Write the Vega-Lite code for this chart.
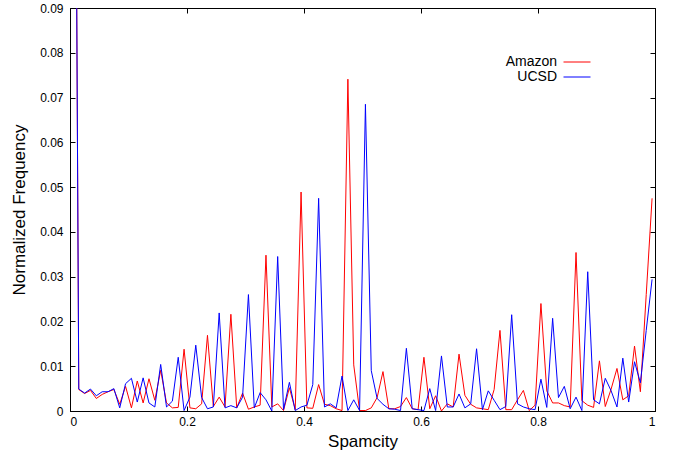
{
  "$schema": "https://vega.github.io/schema/vega-lite/v6.json",
  "width": 585,
  "height": 403,
  "autosize": {"type": "none"},
  "padding": {"left": 70, "top": 8, "right": 26, "bottom": 45},
  "background": "white",
  "config": {
    "view": {"stroke": "black", "strokeWidth": 1},
    "font": "Liberation Sans",
    "axis": {
      "grid": false,
      "domainColor": "black",
      "tickColor": "black",
      "labelColor": "black",
      "titleColor": "black",
      "labelFont": "Liberation Sans",
      "titleFont": "Liberation Sans",
      "labelFontSize": 12,
      "titleFontSize": 17,
      "titleFontWeight": "normal",
      "tickSize": -5
    }
  },
  "data": {
    "values": [
      {"x": 0.005, "Amazon": 0.25, "UCSD": 0.25},
      {"x": 0.015, "Amazon": 0.0048, "UCSD": 0.0049},
      {"x": 0.025, "Amazon": 0.0039, "UCSD": 0.0040},
      {"x": 0.035, "Amazon": 0.0046, "UCSD": 0.0049},
      {"x": 0.045, "Amazon": 0.0028, "UCSD": 0.0034},
      {"x": 0.055, "Amazon": 0.0037, "UCSD": 0.0043},
      {"x": 0.065, "Amazon": 0.0043, "UCSD": 0.0043},
      {"x": 0.075, "Amazon": 0.0048, "UCSD": 0.0050},
      {"x": 0.085, "Amazon": 0.0015, "UCSD": 0.0007},
      {"x": 0.095, "Amazon": 0.0055, "UCSD": 0.0061},
      {"x": 0.105, "Amazon": 0.0007, "UCSD": 0.0073},
      {"x": 0.115, "Amazon": 0.0067, "UCSD": 0.0020},
      {"x": 0.125, "Amazon": 0.0018, "UCSD": 0.0074},
      {"x": 0.135, "Amazon": 0.0072, "UCSD": 0.0018},
      {"x": 0.145, "Amazon": 0.0024, "UCSD": 0.0009},
      {"x": 0.155, "Amazon": 0.0091, "UCSD": 0.0104},
      {"x": 0.165, "Amazon": 0.0018, "UCSD": 0.0009},
      {"x": 0.175, "Amazon": 0.0007, "UCSD": 0.0022},
      {"x": 0.185, "Amazon": 0.0008, "UCSD": 0.0120},
      {"x": 0.195, "Amazon": 0.0138, "UCSD": 0.0001},
      {"x": 0.205, "Amazon": 0.0007, "UCSD": 0.0031},
      {"x": 0.215, "Amazon": 0.0005, "UCSD": 0.0147},
      {"x": 0.225, "Amazon": 0.0016, "UCSD": 0.0030},
      {"x": 0.235, "Amazon": 0.0169, "UCSD": 0.0005},
      {"x": 0.245, "Amazon": 0.0010, "UCSD": 0.0009},
      {"x": 0.255, "Amazon": 0.0031, "UCSD": 0.0219},
      {"x": 0.265, "Amazon": 0.0009, "UCSD": 0.0007},
      {"x": 0.275, "Amazon": 0.0216, "UCSD": 0.0012},
      {"x": 0.285, "Amazon": 0.0007, "UCSD": 0.0007},
      {"x": 0.295, "Amazon": 0.0040, "UCSD": 0.0031},
      {"x": 0.305, "Amazon": 0.0004, "UCSD": 0.0260},
      {"x": 0.315, "Amazon": 0.0009, "UCSD": 0.0007},
      {"x": 0.325, "Amazon": 0.0013, "UCSD": 0.0041},
      {"x": 0.335, "Amazon": 0.0348, "UCSD": 0.0025},
      {"x": 0.345, "Amazon": 0.0009, "UCSD": 0.0000},
      {"x": 0.355, "Amazon": 0.0016, "UCSD": 0.0345},
      {"x": 0.365, "Amazon": 0.0001, "UCSD": 0.0003},
      {"x": 0.375, "Amazon": 0.0052, "UCSD": 0.0064},
      {"x": 0.385, "Amazon": 0.0003, "UCSD": 0.0001},
      {"x": 0.395, "Amazon": 0.0489, "UCSD": 0.0009},
      {"x": 0.405, "Amazon": 0.0007, "UCSD": 0.0013},
      {"x": 0.415, "Amazon": 0.0006, "UCSD": 0.0059},
      {"x": 0.425, "Amazon": 0.0059, "UCSD": 0.0475},
      {"x": 0.435, "Amazon": 0.0015, "UCSD": 0.0009},
      {"x": 0.445, "Amazon": 0.0012, "UCSD": 0.0016},
      {"x": 0.455, "Amazon": 0.0005, "UCSD": 0.0007},
      {"x": 0.465, "Amazon": 0.0001, "UCSD": 0.0078},
      {"x": 0.475, "Amazon": 0.0741, "UCSD": 0.0001},
      {"x": 0.485, "Amazon": 0.0103, "UCSD": 0.0025},
      {"x": 0.495, "Amazon": 0.0001, "UCSD": 0.0001},
      {"x": 0.505, "Amazon": 0.0001, "UCSD": 0.0685},
      {"x": 0.515, "Amazon": 0.0007, "UCSD": 0.0090},
      {"x": 0.525, "Amazon": 0.0030, "UCSD": 0.0028},
      {"x": 0.535, "Amazon": 0.0088, "UCSD": 0.0015},
      {"x": 0.545, "Amazon": 0.0005, "UCSD": 0.0005},
      {"x": 0.555, "Amazon": 0.0005, "UCSD": 0.0004},
      {"x": 0.565, "Amazon": 0.0010, "UCSD": 0.0001},
      {"x": 0.575, "Amazon": 0.0030, "UCSD": 0.0140},
      {"x": 0.585, "Amazon": 0.0005, "UCSD": 0.0005},
      {"x": 0.595, "Amazon": 0.0003, "UCSD": 0.0003},
      {"x": 0.605, "Amazon": 0.0120, "UCSD": 0.0001},
      {"x": 0.615, "Amazon": 0.0005, "UCSD": 0.0050},
      {"x": 0.625, "Amazon": 0.0034, "UCSD": 0.0001},
      {"x": 0.635, "Amazon": 0.0000, "UCSD": 0.0123},
      {"x": 0.645, "Amazon": 0.0016, "UCSD": 0.0009},
      {"x": 0.655, "Amazon": 0.0009, "UCSD": 0.0009},
      {"x": 0.665, "Amazon": 0.0127, "UCSD": 0.0038},
      {"x": 0.675, "Amazon": 0.0035, "UCSD": 0.0007},
      {"x": 0.685, "Amazon": 0.0015, "UCSD": 0.0016},
      {"x": 0.695, "Amazon": 0.0007, "UCSD": 0.0139},
      {"x": 0.705, "Amazon": 0.0005, "UCSD": 0.0003},
      {"x": 0.715, "Amazon": 0.0003, "UCSD": 0.0045},
      {"x": 0.725, "Amazon": 0.0048, "UCSD": 0.0024},
      {"x": 0.735, "Amazon": 0.0180, "UCSD": 0.0003},
      {"x": 0.745, "Amazon": 0.0003, "UCSD": 0.0010},
      {"x": 0.755, "Amazon": 0.0003, "UCSD": 0.0215},
      {"x": 0.765, "Amazon": 0.0025, "UCSD": 0.0016},
      {"x": 0.775, "Amazon": 0.0046, "UCSD": 0.0009},
      {"x": 0.785, "Amazon": 0.0001, "UCSD": 0.0005},
      {"x": 0.795, "Amazon": 0.0013, "UCSD": 0.0003},
      {"x": 0.805, "Amazon": 0.0240, "UCSD": 0.0071},
      {"x": 0.815, "Amazon": 0.0045, "UCSD": 0.0008},
      {"x": 0.825, "Amazon": 0.0018, "UCSD": 0.0207},
      {"x": 0.835, "Amazon": 0.0018, "UCSD": 0.0030},
      {"x": 0.845, "Amazon": 0.0012, "UCSD": 0.0055},
      {"x": 0.855, "Amazon": 0.0009, "UCSD": 0.0005},
      {"x": 0.865, "Amazon": 0.0354, "UCSD": 0.0031},
      {"x": 0.875, "Amazon": 0.0023, "UCSD": 0.0001},
      {"x": 0.885, "Amazon": 0.0013, "UCSD": 0.0311},
      {"x": 0.895, "Amazon": 0.0008, "UCSD": 0.0025},
      {"x": 0.905, "Amazon": 0.0112, "UCSD": 0.0016},
      {"x": 0.915, "Amazon": 0.0010, "UCSD": 0.0073},
      {"x": 0.925, "Amazon": 0.0049, "UCSD": 0.0045},
      {"x": 0.935, "Amazon": 0.0095, "UCSD": 0.0009},
      {"x": 0.945, "Amazon": 0.0025, "UCSD": 0.0118},
      {"x": 0.955, "Amazon": 0.0034, "UCSD": 0.0020},
      {"x": 0.965, "Amazon": 0.0145, "UCSD": 0.0110},
      {"x": 0.975, "Amazon": 0.0043, "UCSD": 0.0063},
      {"x": 0.985, "Amazon": 0.0260, "UCSD": 0.0180},
      {"x": 0.995, "Amazon": 0.0475, "UCSD": 0.0294}
    ]
  },
  "transform": [{"fold": ["Amazon", "UCSD"], "as": ["series", "y"]}],
  "layer": [
    {
      "mark": {"type": "line", "clip": true, "strokeWidth": 1},
      "encoding": {
        "x": {
          "field": "x",
          "type": "quantitative",
          "scale": {"domain": [0, 1], "nice": false, "zero": false},
          "axis": {
            "orient": "bottom",
            "values": [0, 0.2, 0.4, 0.6, 0.8, 1],
            "format": "~g",
            "title": "Spamcity",
            "labelPadding": 10,
            "titlePadding": 6
          }
        },
        "y": {
          "field": "y",
          "type": "quantitative",
          "scale": {"domain": [0, 0.09], "nice": false},
          "axis": {
            "orient": "left",
            "values": [0, 0.01, 0.02, 0.03, 0.04, 0.05, 0.06, 0.07, 0.08, 0.09],
            "format": "~g",
            "title": "Normalized Frequency",
            "labelPadding": 12,
            "titlePadding": 11
          }
        },
        "color": {
          "field": "series",
          "type": "nominal",
          "scale": {"domain": ["Amazon", "UCSD"], "range": ["#ff0000", "#0000ff"]},
          "legend": {
            "orient": "none",
            "legendX": 500,
            "legendY": 47,
            "title": null,
            "padding": 0,
            "symbolType": "M-2.25,0H2.25",
            "symbolSize": 144,
            "symbolStrokeWidth": 1,
            "symbolFillColor": "transparent",
            "labelAlign": "right",
            "labelOffset": -27,
            "labelFontSize": 14,
            "labelFont": "Liberation Sans",
            "labelColor": "black",
            "rowPadding": 1
          }
        }
      }
    },
    {
      "mark": {"type": "point", "opacity": 0, "size": 0},
      "encoding": {
        "x": {
          "field": "x",
          "type": "quantitative",
          "axis": {"orient": "top", "values": [0, 0.2, 0.4, 0.6, 0.8, 1], "labels": false, "title": null, "domain": false}
        },
        "y": {
          "field": "y",
          "type": "quantitative",
          "axis": {"orient": "right", "values": [0, 0.01, 0.02, 0.03, 0.04, 0.05, 0.06, 0.07, 0.08, 0.09], "labels": false, "title": null, "domain": false}
        }
      }
    }
  ],
  "resolve": {"axis": {"x": "independent", "y": "independent"}}
}
